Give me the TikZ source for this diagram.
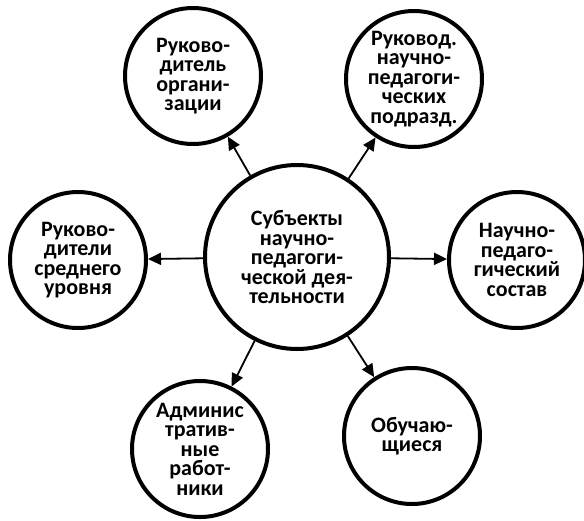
\documentclass[tikz,border=0pt]{standalone}
\usepackage{fontspec}
\setmainfont{Carlito}
\usetikzlibrary{arrows.meta}
\begin{document}
\begin{tikzpicture}[x=1pt,y=-1pt,
  bubble/.style={circle,draw=black,line width=4pt,minimum size=136pt,inner sep=0pt,
    align=center,font=\bfseries\fontsize{22}{19.5}\selectfont},
  hub/.style={bubble,minimum size=184pt},
  link/.style={line width=1.8pt,-{Triangle[length=13pt,width=12pt]}}]
\useasboundingbox (0,0) rectangle (584,520);
\node[hub] (c) at (297,257) {Субъекты\\научно-\\педагоги-\\ческой дея-\\тельности};
\node[bubble] (tl) at (193,76) {Руково-\\дитель\\органи-\\зации};
\node[bubble] (tr) at (414,79) {Руковод.\\научно-\\педагоги-\\ческих\\подразд.};
\node[bubble] (l) at (78,260) {Руково-\\дители\\среднего\\уровня};
\node[bubble] (r) at (517,260) {Научно-\\педаго-\\гический\\состав};
\node[bubble] (bl) at (200,449) {Админис\\тратив-\\ные\\работ-\\ники};
\node[bubble] (br) at (412,436) {Обучаю-\\щиеся};
\foreach \t in {tl,tr,l,r,bl,br} \draw[link] (c) -- (\t);
\end{tikzpicture}
\end{document}
